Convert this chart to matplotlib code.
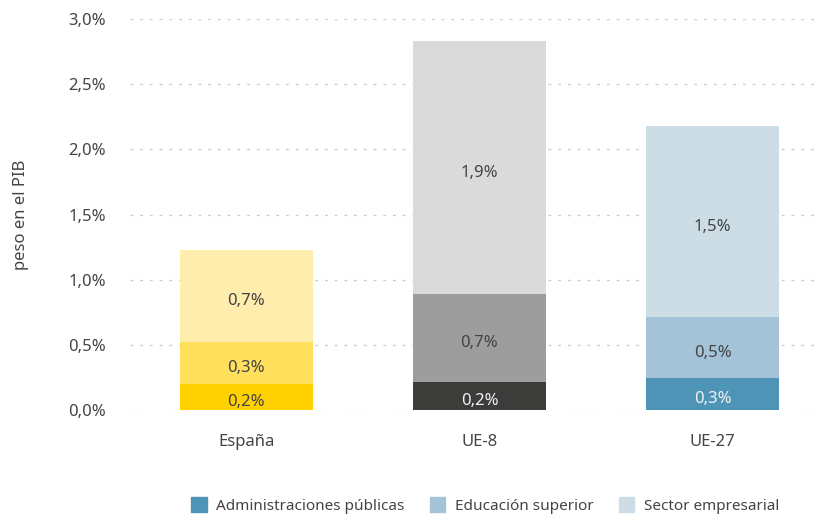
import matplotlib
matplotlib.use("Agg")
import matplotlib.pyplot as plt
import matplotlib.transforms as mtransforms
from matplotlib.patches import Patch

plt.rcParams["font.family"] = ["Noto Sans", "DejaVu Sans"]

# datos (peso en el PIB, %)
regions = ["España", "UE-8", "UE-27"]
admin_publicas = [0.20, 0.215, 0.245]
educacion_superior = [0.32, 0.675, 0.47]
sector_empresarial = [0.71, 1.94, 1.465]
labels_admin = ["0,2%", "0,2%", "0,3%"]
labels_edu = ["0,3%", "0,7%", "0,5%"]
labels_emp = ["0,7%", "1,9%", "1,5%"]
legend_labels = ["Administraciones públicas", "Educación superior", "Sector empresarial"]

# colores por barra: (inferior, medio, superior)
bar_colors = [
    ("#FFD100", "#FFDF5C", "#FFEDAE"),
    ("#3C3C3B", "#9D9D9D", "#DADADA"),
    ("#4D94B6", "#A4C3D8", "#CCDDE6"),
]
text_colors = [
    ("#444444", "#444444", "#444444"),
    ("#F2F2F2", "#444444", "#444444"),
    ("#F2F2F2", "#444444", "#444444"),
]

fig = plt.figure(figsize=(8.21, 5.16), dpi=100)
ax = fig.add_axes([0.158, 0.205, 0.835, 0.758])

# etiquetas un poco por debajo del centro del segmento
label_tf = mtransforms.offset_copy(ax.transData, fig=fig, x=0, y=-3, units="dots")

x = list(range(len(regions)))
width = 0.57
for i in x:
    segs = [admin_publicas[i], educacion_superior[i], sector_empresarial[i]]
    labs = [labels_admin[i], labels_edu[i], labels_emp[i]]
    bottom = 0.0
    for j, (v, lab) in enumerate(zip(segs, labs)):
        ax.bar(i, v, bottom=bottom, width=width, color=bar_colors[i][j], zorder=2)
        ax.text(i, bottom + v / 2, lab, ha="center", va="center_baseline",
                fontsize=12, color=text_colors[i][j], zorder=3, transform=label_tf)
        bottom += v

ax.set_xlim(-0.5, 2.44)
ax.set_ylim(0, 3.0)
ax.set_yticks([0, 0.5, 1.0, 1.5, 2.0, 2.5, 3.0])
ax.set_yticklabels([f"{t:.1f}%".replace(".", ",") for t in ax.get_yticks()])
ax.set_xticks(x)
ax.set_xticklabels(regions)
ax.tick_params(axis="both", length=0, labelsize=12, colors="#444444")
ax.tick_params(axis="y", pad=17)
ax.tick_params(axis="x", pad=17)
ax.grid(axis="y", color="#CCCCCC", linestyle=(0, (2, 5)), linewidth=1, zorder=0)
for s in ax.spines.values():
    s.set_visible(False)

ax.set_ylabel("peso en el PIB", fontsize=12, color="#444444", labelpad=28)

handles = [Patch(color=c) for c in bar_colors[2]]
fig.legend(handles, legend_labels, loc="lower center", bbox_to_anchor=(0.591, -0.022),
           ncol=3, frameon=False, fontsize=11, handlelength=1.0, handleheight=1.1,
           handletextpad=0.6, columnspacing=1.7, labelcolor="#444444")

fig.savefig("out.png", dpi=100)
